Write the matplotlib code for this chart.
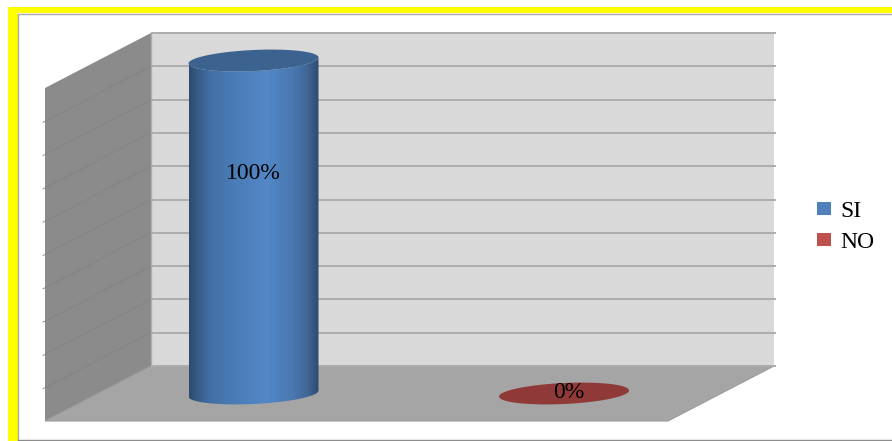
import numpy as np
import matplotlib.pyplot as plt
from matplotlib.colors import LinearSegmentedColormap
from matplotlib.patches import Patch, PathPatch, Polygon, Rectangle
from matplotlib.path import Path

categories = ['SI', 'NO']
values = [100, 0]
value_labels = ['100%', '0%']
grid_values = [0, 10, 20, 30, 40, 50, 60, 70, 80, 90, 100]
colors = ['#4f81bd', '#c0504d']

plt.rcParams['font.family'] = ['Liberation Serif', 'DejaVu Serif']

fig = plt.figure(figsize=(8.92, 4.41), dpi=100)
ax = fig.add_axes([0, 0, 1, 1])

# frame
ax.add_patch(Rectangle((8, 7), 884, 6, fc='#ffff00', ec='none'))
ax.add_patch(Rectangle((8, 7), 10, 434, fc='#ffff00', ec='none'))
ax.plot([18, 18, 892], [441, 13.5, 13.5], color='#a8a8a8', lw=1)
ax.plot([18, 892], [440, 440], color='#8c8c8c', lw=1)

# 3d box
x_back0, x_back1 = 151, 774
dx, dy = -106, 55
y_zero, px_per_unit = 366, 3.33


def grid_y(v):
    return y_zero - v * px_per_unit


top = grid_y(100)
ax.add_patch(Polygon([(x_back0, top), (x_back1, top), (x_back1, y_zero), (x_back0, y_zero)], fc='#d9d9d9', ec='none'))
ax.add_patch(Polygon([(x_back0 + dx, top + dy), (x_back0, top), (x_back0, y_zero), (x_back0 + dx, y_zero + dy)], fc='#8b8b8b', ec='none'))
ax.add_patch(Polygon([(x_back0 + dx, y_zero + dy), (x_back0, y_zero), (x_back1, y_zero), (x_back1 + dx, y_zero + dy)], fc='#a5a5a5', ec='#9c9c9c', lw=0.8))

for v in grid_values:
    y = grid_y(v)
    ax.plot([x_back0, x_back1 + 2], [y, y], color='#adadad', lw=1.4, solid_capstyle='butt')
    if v > 0 and v < 100:
        ax.plot([x_back0 + dx - 2, x_back0], [y + dy + 1, y], color='#838383', lw=0.6)
ax.plot([x_back0, x_back0], [top, y_zero], color='#adadad', lw=1)

# cylinders
half_w, half_h, tilt = 65, 10.5, 3
bar_x = [253.5, 564]
floor_y = 393.5


def ellipse_pts(cx, cy, t):
    return cx + half_w * np.cos(t), cy + half_h * np.sin(t) - tilt * np.cos(t)


cyl = LinearSegmentedColormap.from_list('cyl', [
    (0.0, '#2c4a72'), (0.05, '#35587f'), (0.16, '#436fa5'), (0.35, '#4a7cb6'),
    (0.6, '#5387c7'), (0.8, '#4a78b0'), (0.92, '#3f6594'), (1.0, '#2d4a70')])

for cx, v, c, label in zip(bar_x, values, colors, value_labels):
    y_top = floor_y - v * px_per_unit
    if v > 0:
        tx, ty = ellipse_pts(cx, y_top, np.linspace(np.pi, 0, 60))
        bx, by = ellipse_pts(cx, floor_y, np.linspace(0, np.pi, 60))
        verts = np.r_[np.c_[tx, ty], np.c_[bx, by], [[tx[0], ty[0]]]]
        body = PathPatch(Path(verts), fc='none', ec='none')
        ax.add_patch(body)
        im = ax.imshow(np.linspace(0, 1, 256)[None, :], cmap=cyl, aspect='auto',
                       extent=(cx - half_w, cx + half_w, floor_y + 15, y_top - 15), zorder=3)
        im.set_clip_path(body)
        ex, ey = ellipse_pts(cx, y_top, np.linspace(0, 2 * np.pi, 120))
        ax.fill(ex, ey, color='#3c628f', lw=0, zorder=4)
        ax.text(cx, y_top + 113, label, ha='center', va='center', fontsize=17, color='black', zorder=5)
    else:
        ex, ey = ellipse_pts(cx, floor_y, np.linspace(0, 2 * np.pi, 120))
        ax.fill(ex, ey, color='#8f3a38', lw=0, zorder=4)
        ax.text(cx + 5, floor_y - 1, label, ha='center', va='center', fontsize=17, color='black', zorder=5)

handles = [Patch(fc=c, ec='none', label=n) for c, n in zip(colors, categories)]
ax.legend(handles=handles, loc='center left', bbox_to_anchor=(812, 227), bbox_transform=ax.transData,
          frameon=False, fontsize=17, handlelength=0.6, handleheight=0.45, handletextpad=0.4,
          labelspacing=0.42, borderpad=0.2, borderaxespad=0)

ax.set_xlim(0, 892)
ax.set_ylim(441, 0)
ax.axis('off')
fig.savefig('out.png', dpi=100, facecolor='white')
